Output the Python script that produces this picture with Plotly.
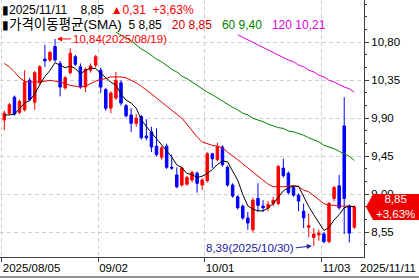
import pandas as pd
import plotly.graph_objects as go

# ---------------- data ----------------
holidays = ["2025-09-01"]
dates = [d.strftime("%Y-%m-%d") for d in pd.bdate_range("2025-08-05", "2025-11-11") if d.strftime("%Y-%m-%d") not in holidays]

opens = [9.88, 9.96, 10.15, 9.97, 10.00, 10.35, 10.09, 10.32, 10.60, 10.59,
         10.75, 10.55, 10.26, 10.44, 10.63, 10.51, 10.27, 10.47, 10.53, 10.47,
         10.24, 10.02, 10.14, 10.32, 10.05, 9.94, 9.84, 9.92, 9.69, 9.74,
         9.57, 9.44, 9.57, 9.32, 9.23, 9.11, 9.12, 9.17, 9.25, 9.11,
         9.16, 9.48, 9.41, 9.56, 9.32, 9.11, 8.97, 8.86, 8.72, 8.58,
         8.95, 8.86, 8.84, 8.89, 8.89, 9.31, 9.25, 9.08, 8.99, 8.80,
         8.61, 8.49, 8.52, 8.53, 8.44, 8.95, 9.10, 9.81, 8.86, 8.61]
highs = [9.99, 10.08, 10.17, 10.12, 10.47, 10.38, 10.46, 10.53, 10.77, 10.70,
         10.84, 10.58, 10.40, 10.73, 10.65, 10.55, 10.50, 10.55, 10.65, 10.50,
         10.26, 10.22, 10.45, 10.35, 10.07, 10.02, 9.95, 9.94, 9.89, 9.80,
         9.78, 9.57, 9.60, 9.47, 9.32, 9.33, 9.22, 9.28, 9.27, 9.19,
         9.50, 9.49, 9.61, 9.58, 9.34, 9.13, 8.99, 8.88, 8.79, 8.96,
         9.13, 8.93, 8.92, 8.97, 9.35, 9.42, 9.27, 9.10, 9.01, 8.89,
         8.77, 8.60, 8.58, 8.55, 8.91, 9.10, 9.23, 10.15, 8.88, 8.87]
lows = [9.76, 9.94, 9.93, 9.95, 9.98, 10.10, 10.00, 10.30, 10.51, 10.57,
        10.57, 10.16, 10.24, 10.42, 10.52, 10.25, 10.21, 10.44, 10.50, 10.20,
        9.99, 9.96, 10.12, 10.05, 9.91, 9.74, 9.80, 9.65, 9.64, 9.50,
        9.45, 9.41, 9.30, 9.29, 9.07, 9.09, 9.10, 9.14, 9.02, 9.05,
        9.14, 9.31, 9.39, 9.33, 9.09, 8.96, 8.82, 8.70, 8.58, 8.55,
        8.79, 8.79, 8.80, 8.86, 8.87, 9.20, 9.00, 8.97, 8.80, 8.60,
        8.49, 8.39, 8.45, 8.42, 8.42, 8.92, 8.82, 8.53, 8.43, 8.59]
closes = [9.96, 10.06, 9.95, 10.10, 10.33, 10.12, 10.44, 10.51, 10.58, 10.68,
          10.59, 10.27, 10.38, 10.67, 10.54, 10.27, 10.48, 10.52, 10.63, 10.27,
          10.02, 10.20, 10.35, 10.08, 9.93, 9.84, 9.90, 9.67, 9.67, 9.56,
          9.47, 9.55, 9.32, 9.31, 9.09, 9.31, 9.20, 9.26, 9.13, 9.17,
          9.48, 9.42, 9.56, 9.35, 9.11, 8.98, 8.84, 8.72, 8.66, 8.93,
          8.87, 8.84, 8.88, 8.93, 9.33, 9.22, 9.02, 8.99, 8.92, 8.72,
          8.63, 8.53, 8.54, 8.44, 8.89, 9.08, 8.84, 8.95, 8.54, 8.85]
prev_close = 8.54
prior_closes = [10.06, 9.90, 9.80, 9.98]   # 4 closes before the window (for SMA5)

sma20 = [10.55, 10.51, 10.45, 10.38, 10.34, 10.33, 10.33, 10.33, 10.34, 10.35,
         10.34, 10.33, 10.31, 10.29, 10.28, 10.27, 10.28, 10.31, 10.34, 10.36,
         10.37, 10.39, 10.39, 10.39, 10.38, 10.35, 10.32, 10.28, 10.24, 10.19,
         10.14, 10.09, 10.05, 10.00, 9.95, 9.90, 9.83, 9.75, 9.68, 9.62,
         9.60, 9.58, 9.57, 9.55, 9.50, 9.46, 9.41, 9.36, 9.31, 9.27,
         9.22, 9.17, 9.12, 9.09, 9.09, 9.09, 9.10, 9.10, 9.09, 9.05,
         9.03, 8.98, 8.93, 8.89, 8.87, 8.87, 8.86, 8.86, 8.86, 8.85]
sma60 = [None] * 22 + [10.92, 10.89, 10.85, 10.82, 10.77, 10.72, 10.69, 10.64,
         10.60, 10.57, 10.52, 10.48, 10.45, 10.40, 10.37, 10.33, 10.28, 10.25,
         10.21, 10.18, 10.14, 10.10, 10.07, 10.03, 10.00, 9.96, 9.94, 9.90,
         9.88, 9.86, 9.83, 9.81, 9.79, 9.78, 9.75, 9.74, 9.72, 9.70,
         9.67, 9.64, 9.62, 9.58, 9.56, 9.54, 9.51, 9.48, 9.45, 9.40]
sma120 = [None] * 46 + [10.89, 10.86, 10.83, 10.80, 10.77, 10.74, 10.71, 10.68,
          10.65, 10.62, 10.59, 10.57, 10.53, 10.51, 10.47, 10.45, 10.41, 10.39,
          10.35, 10.33, 10.30, 10.27, 10.25, 10.21]

tick_dates = ["2025-08-05", "2025-09-02", "2025-10-01", "2025-11-03"]
tick_labels = ["2025/08/05", "09/02", "10/01", "11/03"]
y_ticks = [8.55, 9.00, 9.45, 9.90, 10.35, 10.80]

# ---------------- derived ----------------
xs = list(range(len(dates)))
sma5 = pd.Series(prior_closes + closes).rolling(5).mean().tolist()[4:]
last = closes[-1]
chg = last - prev_close
pct = chg / prev_close * 100
hi_i = max(xs, key=lambda i: highs[i])
lo_i = min(xs, key=lambda i: lows[i])

def kfmt(v, d=2):
    return f"{v:.{d}f}".replace(".", ",")

def kdate(d):
    return d.replace("-", "/")

RED = "#ff0000"
BLUE = "#0000ff"
FONT = "Liberation Sans, Arial, Noto Sans CJK KR, sans-serif"
FS = 11.5
NB = "\u00a0"

y_range = [8.2575, 11.301]
x_range = [-0.85, 70.9]

fig = go.Figure()
fig.add_trace(go.Scatter(x=xs, y=sma120, mode="lines", line=dict(color="#e000e0", width=1), hoverinfo="skip"))
fig.add_trace(go.Scatter(x=xs, y=sma60, mode="lines", line=dict(color="#008000", width=1), hoverinfo="skip"))
fig.add_trace(go.Scatter(x=xs, y=sma20, mode="lines", line=dict(color="#e00000", width=1), hoverinfo="skip"))
fig.add_trace(go.Candlestick(
    x=xs, open=opens, high=highs, low=lows, close=closes,
    increasing=dict(line=dict(color=RED, width=1), fillcolor=RED),
    decreasing=dict(line=dict(color=BLUE, width=1), fillcolor=BLUE),
    whiskerwidth=0, hoverinfo="skip"))
fig.add_trace(go.Scatter(x=xs, y=sma5, mode="lines", line=dict(color="#000000", width=1), hoverinfo="skip"))

tickvals_x = [dates.index(d) - 0.5 for d in tick_dates]

fig.update_layout(
    width=419, height=279,
    margin=dict(l=0, r=55, t=0, b=22),
    paper_bgcolor="white", plot_bgcolor="white",
    showlegend=False,
    font=dict(family=FONT, size=FS, color="black"),
    xaxis=dict(range=x_range, rangeslider=dict(visible=False),
               tickmode="array", tickvals=tickvals_x, ticktext=tick_labels,
               ticklabelposition="outside right",
               ticks="outside", ticklen=4, tickcolor="#404040",
               showgrid=True, gridcolor="#cfcfcf", griddash="4px,3px", gridwidth=1,
               showline=True, linecolor="#404040", linewidth=1,
               zeroline=False, fixedrange=True,
               tickfont=dict(family=FONT, size=FS, color="black")),
    yaxis=dict(range=y_range, side="right",
               tickmode="array", tickvals=y_ticks, ticktext=[kfmt(v) for v in y_ticks],
               ticks="outside", ticklen=4, tickcolor="#404040",
               minor=dict(dtick=0.15, tick0=8.55, ticks="outside", ticklen=2, tickcolor="#404040", showgrid=False),
               showgrid=True, gridcolor="#cfcfcf", griddash="4px,3px", gridwidth=1,
               showline=True, linecolor="#404040", linewidth=1,
               zeroline=False, fixedrange=True,
               tickfont=dict(family=FONT, size=FS, color="black")),
)

# header
bar = "<span style='color:black'>▮</span>"
line1 = (f"{bar}{kdate(dates[-1])}{NB*4}{kfmt(last)}{NB*2}"
         f"<span style='color:{RED}'>▲{kfmt(abs(chg))}{NB*2}+{kfmt(pct)}%</span>")
line2 = (f"{bar}<span style='font-size:13.5px'>가격이동평균(SMA)</span>{NB*2}5{NB}{kfmt(sma5[-1])}{NB*3}"
         f"<span style='color:#d00000'>20{NB}{kfmt(sma20[-1])}</span>{NB*3}"
         f"<span style='color:#008000'>60{NB}{kfmt(sma60[-1])}</span>{NB*3}"
         f"<span style='color:#e000e0'>120{NB}{kfmt(sma120[-1])}</span>")
fig.add_annotation(xref="paper", yref="paper", x=0.0, y=1 - 10 / 257, xanchor="left", yanchor="middle",
                   text=line1, showarrow=False, font=dict(family=FONT, size=12, color="black"))
fig.add_annotation(xref="paper", yref="paper", x=0.0, y=1 - 24 / 257, xanchor="left", yanchor="middle",
                   text=line2, showarrow=False, font=dict(family=FONT, size=12, color="black"))

# high / low markers
fig.add_annotation(x=hi_i, y=highs[hi_i], text=f"{kfmt(highs[hi_i])}({kdate(dates[hi_i])})",
                   showarrow=True, arrowhead=2, arrowsize=1, arrowwidth=1, arrowcolor=RED,
                   ax=16, ay=0, xanchor="left", yanchor="middle", standoff=2,
                   font=dict(family=FONT, size=FS, color=RED))
fig.add_annotation(x=lo_i, y=lows[lo_i], text=f"{kfmt(lows[lo_i])}({kdate(dates[lo_i])})",
                   showarrow=True, arrowhead=2, arrowsize=1, arrowwidth=1, arrowcolor="#2020a0",
                   ax=-18, ay=2, xanchor="right", yanchor="middle", standoff=2,
                   font=dict(family=FONT, size=FS, color="#2020a0"))

# last date label at right of the date band
fig.add_annotation(xref="paper", yref="paper", x=1 + 54.5 / 364, y=-11 / 257, xanchor="right", yanchor="middle",
                   text=kdate(dates[-1]), showarrow=False, font=dict(family=FONT, size=FS, color="black"))

# current price badge
yp = (last - y_range[0]) / (y_range[1] - y_range[0])
h = 13 / 257
x0, x1, x2 = 1 + 2 / 364, 1 + 9 / 364, 1 + 56 / 364
fig.add_shape(type="path", xref="paper", yref="paper", layer="above",
              path=f"M {x0},{yp} L {x1},{yp + h} L {x2},{yp + h} L {x2},{yp - h} L {x1},{yp - h} Z",
              fillcolor="#f00000", line=dict(width=0))
fig.add_annotation(xref="paper", yref="paper", x=1 + 32 / 364, y=yp, xanchor="center", yanchor="middle",
                   text=f"{kfmt(last)}<br>+{kfmt(pct)}%", showarrow=False,
                   font=dict(family=FONT, size=FS, color="white"))

# bottom frame line
fig.add_shape(type="line", xref="paper", yref="paper", x0=0, x1=1 + 55 / 364, y0=-20 / 257, y1=-20 / 257,
              line=dict(color="#202020", width=1))

fig.write_html("out.html")
